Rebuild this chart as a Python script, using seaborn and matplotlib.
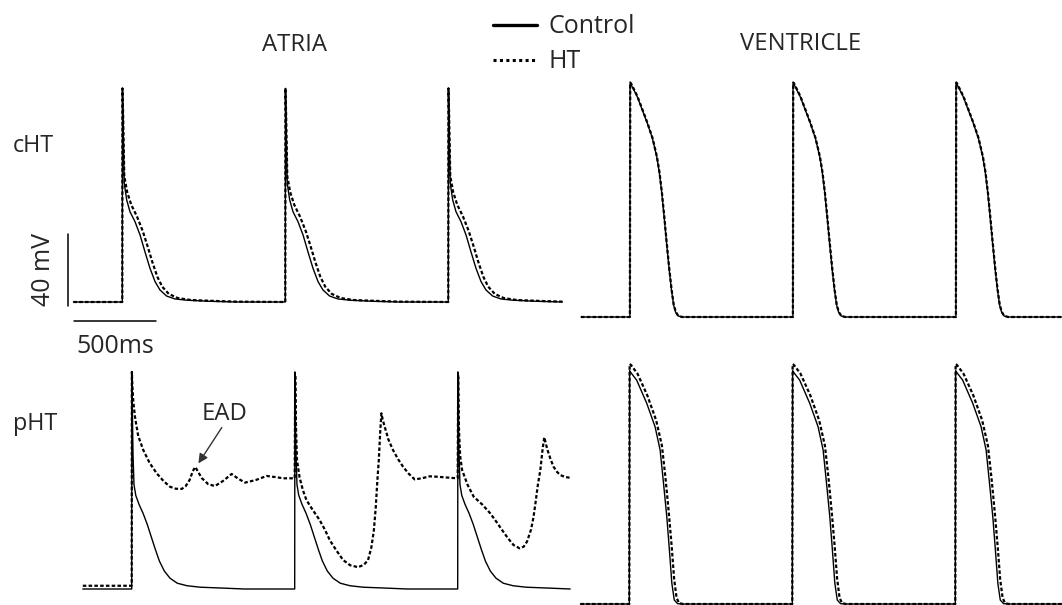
import numpy as np
import pandas as pd
import matplotlib.pyplot as plt
import seaborn as sns
from matplotlib.lines import Line2D

# ---- data (ms relative to each upstroke, mV) ----
spikes = [300, 1300, 2300]

# atria, cHT
a_cht_ctrl_t = [0, 1, 4, 8, 12, 27, 47, 78, 109, 139, 170, 201, 231, 272, 323, 395, 538, 700]
a_cht_ctrl_v = [-80, 38.7, 25, 5, -14.1, -23.3, -29.8, -35.4, -42.8, -52.1, -61.3, -68.7, -73.3,
                -76.7, -78.3, -79.0, -79.6, -80]
a_cht_ht_t = [0, 1, 4, 8, 12, 30, 55, 90, 125, 155, 185, 215, 245, 285, 340, 420, 560, 700]
a_cht_ht_v = [-80, 38.7, 28, 10, -10, -19, -26, -32.5, -40.5, -49, -58, -66, -71.5, -75.5,
              -77.8, -78.9, -79.4, -79.8]

# ventricle, cHT
v_cht_ctrl_t = [0, 1, 8, 45, 76, 107, 138, 165, 180, 195, 210, 225, 240, 255, 268, 280, 295, 320, 700]
v_cht_ctrl_v = [-86, 43.5, 43, 36.4, 29.0, 21.6, 13.3, 2.9, -5.4, -16.6, -30.4, -44.9, -58.8,
                -71, -79.3, -83.2, -85.4, -86, -86]
v_cht_ht_t = [0, 2, 9, 46, 77, 108, 139, 166, 181, 196, 211, 226, 241, 256, 269, 281, 297, 322, 700]
v_cht_ht_v = [-86, 44.3, 43.4, 36.6, 29.2, 21.7, 13.4, 3.0, -5.3, -16.5, -30.3, -44.8, -58.7,
              -70.9, -79.2, -83.1, -85.4, -86, -86]

# atria, pHT
a_pht_ctrl_t = [0, 1, 4, 8, 14, 25, 45, 70, 95, 120, 145, 170, 200, 235, 280, 340, 420, 560, 690]
a_pht_ctrl_v = [-80, 40.6, 20, -5, -22, -28, -33, -38, -44, -51, -58, -64.5, -70, -74, -76.8,
                -78.2, -79, -79.5, -80]
a_pht_ht1_t = [0, 1, 4, 10, 20, 40, 71, 110, 153, 195, 235, 270, 307, 330, 355, 375, 390, 405,
               429, 470, 511, 560, 613, 650, 695, 760, 828, 880, 930, 995]
a_pht_ht1_v = [-78.2, 40.6, 33, 24, 15.7, 5, -2.8, -10, -15.7, -20, -23.2, -24.3, -24.4, -23,
               -19.5, -14.5, -12.2, -14.5, -18.3, -21.8, -22.8, -20, -16.1, -18.5, -20.9, -19.5,
               -17.2, -17.8, -18.5, -18.5]
a_pht_ht2_t = [0, 3, 8, 14, 30, 50, 72, 110, 153, 185, 215, 255, 297, 340, 389, 425, 450, 470,
               485, 497, 507, 516, 525, 532, 540, 552, 575, 603, 635, 665, 700, 736, 780, 828,
               870, 910, 995]
a_pht_ht2_v = [-18.5, 38.9, 10, -8.3, -18, -25, -30.6, -36, -41.7, -47, -52.8, -58.5, -63.9,
               -66.8, -67.9, -66.5, -63.9, -57, -48, -35, -20, -8.3, 8, 17.6, 14, 10.2, 3, -2.8,
               -8, -12.1, -16, -19.1, -18.5, -17.4, -17.6, -17.9, -18.5]
a_pht_ht3_t = [0, 3, 8, 15, 27, 60, 98, 150, 200, 240, 272, 310, 343, 380, 405, 425, 450, 465,
               476, 492, 507, 520, 531, 540, 551, 570, 588, 610, 629, 660, 690]
a_pht_ht3_v = [-18.5, 38.9, 8, -6, -13.9, -22, -28.7, -33, -38, -43, -47.2, -52, -55.6, -57.4,
               -56.5, -53.7, -47, -40, -33, -22, -13.9, -3, 4.3, 1, -2.8, -8, -12.1, -15, -16.7,
               -17.8, -18.2]

# ventricle, pHT
v_pht_ctrl_t = [0, 2, 10, 45, 107, 158, 189, 210, 230, 246, 261, 276, 296, 330, 700]
v_pht_ctrl_v = [-86, 43.6, 42.5, 38.4, 25.5, 12.5, -0.4, -19, -37.5, -56, -74.5, -83.8, -85.8,
                -86, -86]
v_pht_ht_t = [0, 2, 10, 50, 110, 165, 200, 222, 242, 260, 275, 290, 305, 330, 700]
v_pht_ht_v = [-86, 47.3, 46.8, 42, 30, 16, 2, -16, -35, -54, -72, -82.5, -85.5, -86, -86]


def trace(beats, rest):
    t, v = [0], [rest]
    for s, (bt, bv) in zip(spikes, beats):
        t += [s + x for x in bt]
        v += list(bv)
    return pd.DataFrame({"t": t, "V": v})


W, H = 1062, 605
SX, SY = 0.163, 1.8  # px per ms, px per mV

sns.set_style("white")
plt.rcParams["font.family"] = ["Open Sans", "DejaVu Sans"]

fig = plt.figure(figsize=(W / 100, H / 100), dpi=100)


def panel(x0, y_rest, v_rest):
    ax = fig.add_axes([0, 0, 1, 1])
    ax.set_xlim(-x0 / SX, (W - x0) / SX)
    ax.set_ylim(v_rest - (H - y_rest) / SY, v_rest + y_rest / SY)
    ax.set_facecolor("none")
    ax.axis("off")
    return ax


ht_style = dict(color="black", linewidth=1.6, linestyle=(0, (1.6, 1.0)))
ctrl_style = dict(color="black", linewidth=1.0)


def draw(ax, ctrl, ht):
    sns.lineplot(data=ht, x="t", y="V", ax=ax, sort=False, estimator=None, **ht_style)
    sns.lineplot(data=ctrl, x="t", y="V", ax=ax, sort=False, estimator=None, **ctrl_style)
    ax.axis("off")


axA = panel(73.4, 302, -80)
draw(axA,
     trace([(a_cht_ctrl_t, a_cht_ctrl_v)] * 3, -80),
     trace([(a_cht_ht_t, a_cht_ht_v)] * 3, -80))

axB = panel(581, 317, -86)
draw(axB,
     trace([(v_cht_ctrl_t, v_cht_ctrl_v)] * 3, -86),
     trace([(v_cht_ht_t, v_cht_ht_v)] * 3, -86))

axC = panel(82.8, 589, -80)
draw(axC,
     trace([(a_pht_ctrl_t, a_pht_ctrl_v)] * 3, -80),
     trace([(a_pht_ht1_t, a_pht_ht1_v), (a_pht_ht2_t, a_pht_ht2_v),
            (a_pht_ht3_t, a_pht_ht3_v)], -78.2))

axD = panel(580.4, 604, -86)
draw(axD,
     trace([(v_pht_ctrl_t, v_pht_ctrl_v)] * 3, -86),
     trace([(v_pht_ht_t, v_pht_ht_v)] * 3, -86))

# scale bars (40 mV, 500 ms) in atria cHT data units
axA.plot([-31, -31], [-82.2, -42.2], color="black", lw=1.1, clip_on=False)
axA.plot([4, 504], [-90.4, -90.4], color="black", lw=1.1, clip_on=False)

# EAD arrow
axC.annotate("", xy=(700, -11.5), xytext=(862, 11),
             arrowprops=dict(arrowstyle="-|>", color="#333333", lw=1.0,
                             mutation_scale=14))


def ftxt(x, y, s, **kw):
    fig.text(x / W, 1 - y / H, s, **kw)


ftxt(261.7, 50.7, "ATRIA", fontsize=17.2, va="baseline")
ftxt(740, 50.3, "VENTRICLE", fontsize=17.2, va="baseline")
ftxt(13, 151.7, "cHT", fontsize=16.8, va="baseline")
ftxt(13, 430, "pHT", fontsize=16.8, va="baseline")
ftxt(76.7, 353, "500ms", fontsize=18, va="baseline")
ftxt(44, 269, "40 mV", fontsize=18, rotation=90, ha="center", va="center")
ftxt(201.7, 420, "EAD", fontsize=17.2, va="baseline")

# legend
fig.add_artist(Line2D([492.7 / W, 537.3 / W], [1 - 25 / H, 1 - 25 / H],
                      color="black", lw=2.4, transform=fig.transFigure))
fig.add_artist(Line2D([492.7 / W, 537.3 / W], [1 - 60 / H, 1 - 60 / H],
                      color="black", lw=2.2, linestyle=(0, (1, 1.1)),
                      transform=fig.transFigure))
ftxt(548.3, 33.3, "Control", fontsize=18, va="baseline")
ftxt(548.3, 68.3, "HT", fontsize=18, va="baseline")

fig.savefig("out.png", dpi=100, facecolor="white")
